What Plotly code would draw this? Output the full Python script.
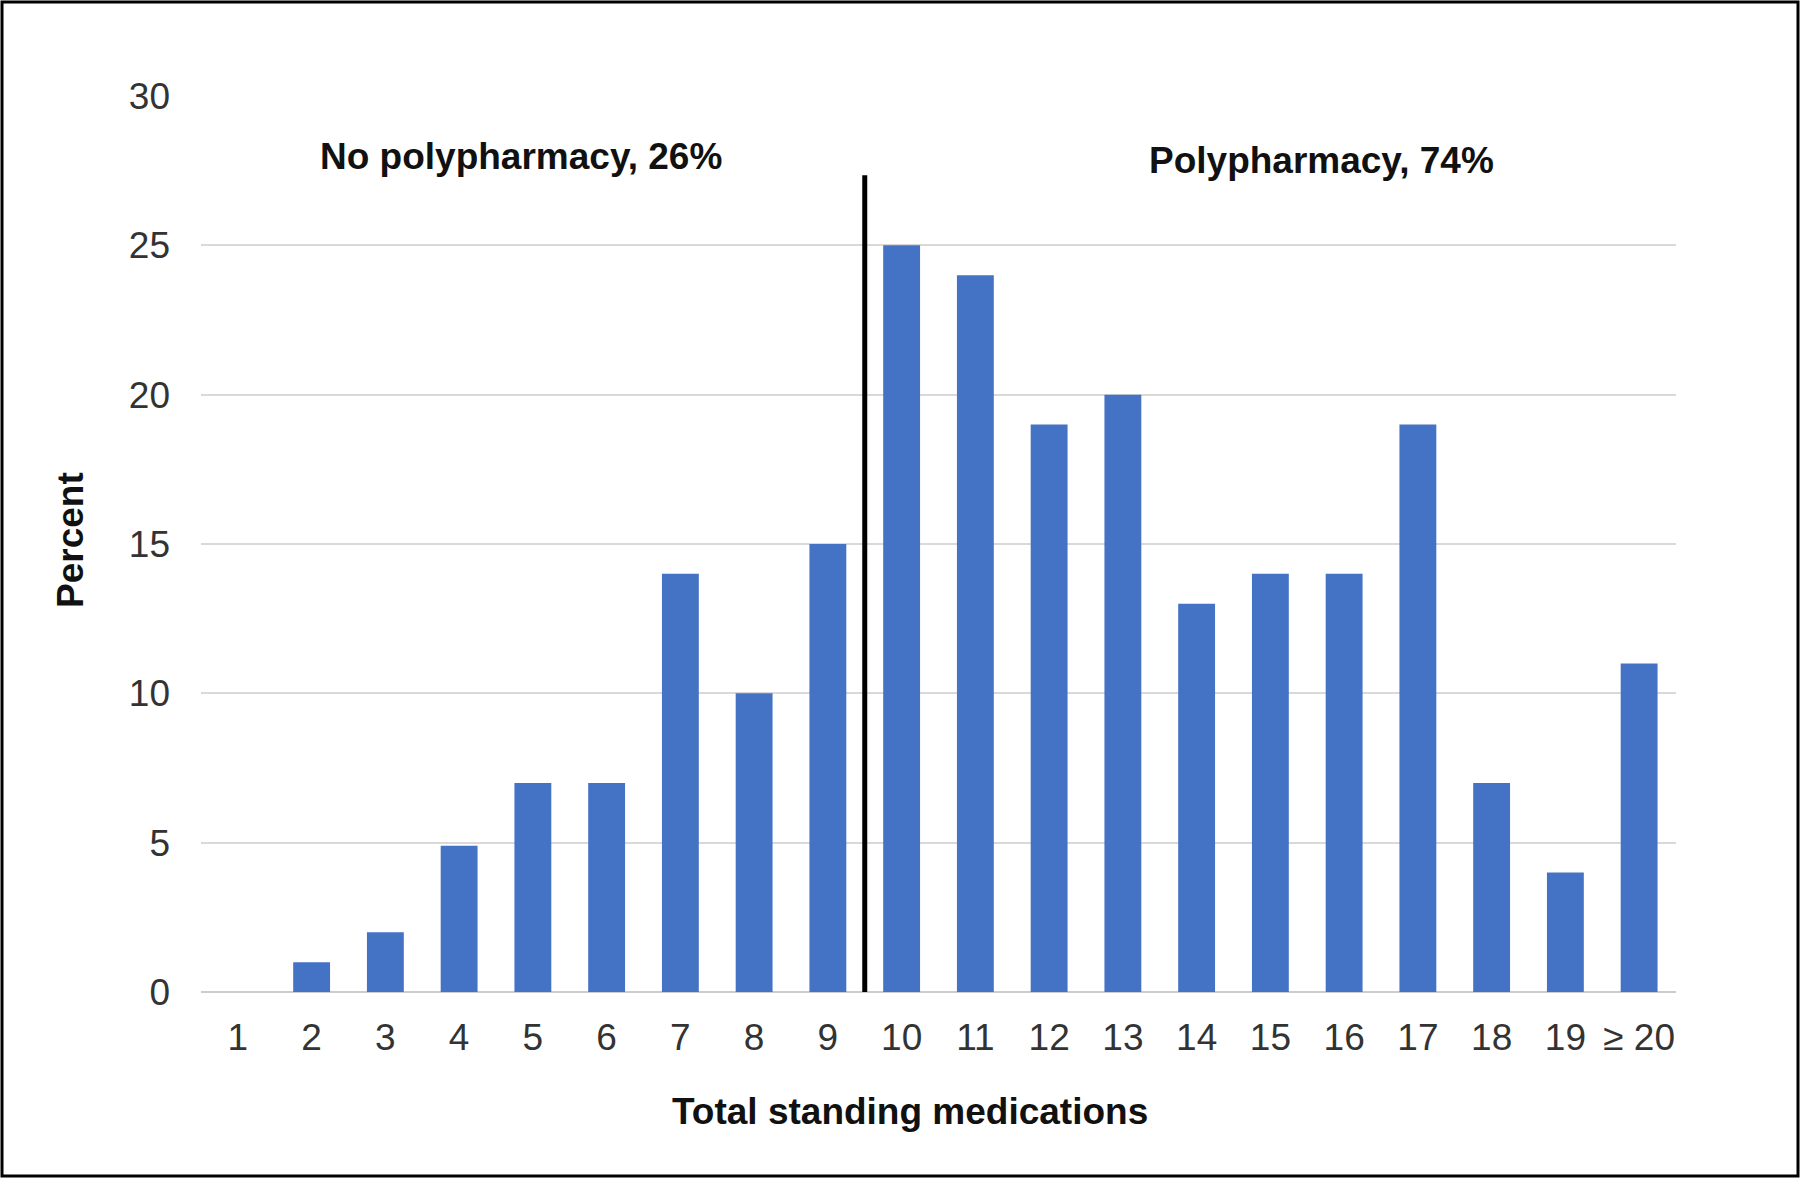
import plotly.graph_objects as go

# Data
categories = ["1", "2", "3", "4", "5", "6", "7", "8", "9", "10",
              "11", "12", "13", "14", "15", "16", "17", "18", "19", "≥ 20"]
percent = [0, 1, 2, 4.9, 7, 7, 14, 10, 15, 25,
           24, 19, 20, 13, 14, 14, 19, 7, 4, 11]
positions = list(range(1, len(categories) + 1))

split_x = 9.5        # boundary between 9 and 10 medications
split_top = 27.35
labels = ["No polypharmacy, 26%", "Polypharmacy, 74%"]
label_x = [4.84, 15.69]
label_y = [27.98, 27.85]

W, H = 1800, 1178
L, R, T, B = 201, 124, 96, 186
FONT = "Liberation Sans, Arial, sans-serif"
FS = 37

fig = go.Figure()
fig.add_trace(go.Bar(x=positions, y=percent, marker_color="#4472C4",
                     marker_line_width=0, showlegend=False))
fig.add_trace(go.Scatter(x=[split_x, split_x], y=[0, split_top], mode="lines",
                         line=dict(color="black", width=5), showlegend=False,
                         hoverinfo="skip"))

for txt, x, y in zip(labels, label_x, label_y):
    fig.add_annotation(x=x, y=y, text=f"<b>{txt}</b>", showarrow=False,
                       xanchor="center", yanchor="middle",
                       font=dict(size=FS, color="#111", family=FONT))

# axis titles as annotations, positioned like the reference
pw, ph = W - L - R, H - T - B
fig.add_annotation(xref="paper", yref="paper", x=(910 - L) / pw, y=-(1111 - (H - B)) / ph,
                   xanchor="center", yanchor="middle",
                   text="<b>Total standing medications</b>", showarrow=False,
                   font=dict(size=FS, color="#111", family=FONT))
fig.add_annotation(xref="paper", yref="paper", x=-(L - 70) / pw, y=(H - B - 540) / ph,
                   xanchor="center", yanchor="middle",
                   text="<b>Percent</b>", showarrow=False, textangle=-90,
                   font=dict(size=FS, color="#111", family=FONT))

# outer frame
fig.add_shape(type="rect", xref="paper", yref="paper",
              x0=(2 - L) / pw, x1=(W - 2 - L) / pw,
              y0=-(B - 2) / ph, y1=(H - 2 - B) / ph,
              line=dict(color="black", width=3))

fig.update_xaxes(range=[0.5, 20.5], tickmode="array", tickvals=positions,
                 ticktext=categories, showgrid=False, zeroline=False,
                 ticks="", ticklabelstandoff=20,
                 tickfont=dict(size=FS, color="#333", family=FONT))
fig.update_yaxes(range=[0, 30], tickvals=[0, 5, 10, 15, 20, 25, 30],
                 showgrid=True, gridcolor="#d9d9d9", gridwidth=2,
                 zeroline=True, zerolinecolor="#cccccc", zerolinewidth=2,
                 ticks="", ticklabelstandoff=30,
                 tickfont=dict(size=FS, color="#333", family=FONT))

fig.update_layout(width=W, height=H, bargap=0.5,
                  margin=dict(l=L, r=R, t=T, b=B),
                  plot_bgcolor="white", paper_bgcolor="white",
                  font=dict(family=FONT))

fig.write_html("out.html", config={"displayModeBar": False},
               post_script="document.body.style.margin='0px';document.body.style.overflow='hidden';")
